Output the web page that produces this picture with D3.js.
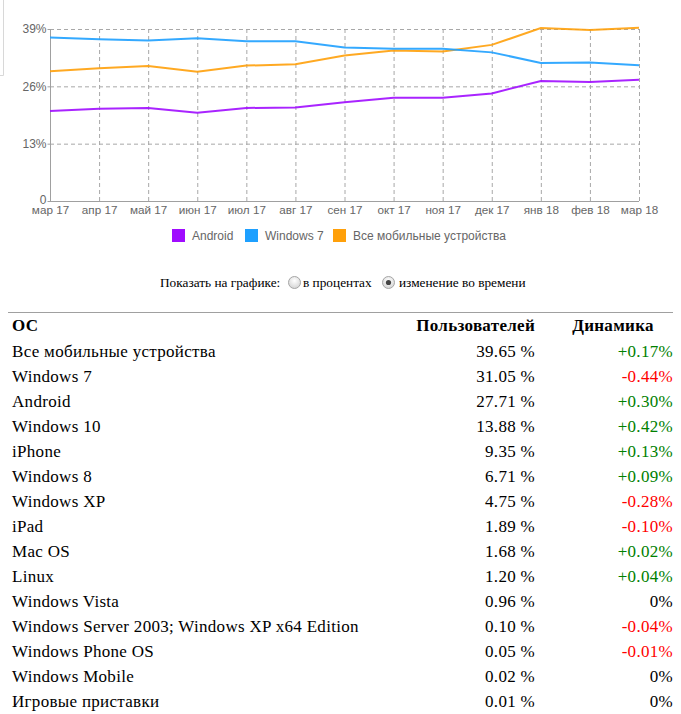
<!DOCTYPE html>
<html><head><meta charset="utf-8">
<script src="https://cdn.jsdelivr.net/npm/d3@7"></script>
<style>body{margin:0;background:#fff}svg{display:block}</style>
</head><body>
<script>
const months = ["мар 17","апр 17","май 17","июн 17","июл 17","авг 17","сен 17","окт 17","ноя 17","дек 17","янв 18","фев 18","мар 18"];
const android = [20.4,20.9,21.1,20.0,21.1,21.2,22.4,23.4,23.4,24.4,27.2,27.0,27.5];
const windows7 = [37.1,36.7,36.4,36.9,36.2,36.2,34.8,34.5,34.5,33.7,31.3,31.4,30.8];
const mobile = [29.4,30.1,30.6,29.3,30.7,31.0,33.0,34.1,33.9,35.4,39.2,38.8,39.3];
const yTicks = [0,13,26,39];
const seriesNames = ["Android","Windows 7","Все мобильные устройства"];
const seriesColors = ["#a00cff","#1ea0ff","#ffa00a"];

const osNames = ["Все мобильные устройства","Windows 7","Android","Windows 10","iPhone","Windows 8","Windows XP","iPad","Mac OS","Linux","Windows Vista","Windows Server 2003; Windows XP x64 Edition","Windows Phone OS","Windows Mobile","Игровые приставки"];
const osShare = ["39.65 %","31.05 %","27.71 %","13.88 %","9.35 %","6.71 %","4.75 %","1.89 %","1.68 %","1.20 %","0.96 %","0.10 %","0.05 %","0.02 %","0.01 %"];
const osChange = ["+0.17%","-0.44%","+0.30%","+0.42%","+0.13%","+0.09%","-0.28%","-0.10%","+0.02%","+0.04%","0%","-0.04%","-0.01%","0%","0%"];

const W = 681, H = 714;
const sans = "Liberation Sans, Arial, Helvetica, sans-serif";
const serif = "Liberation Serif, Times New Roman, serif";
const svg = d3.select("body").append("svg").attr("width", W).attr("height", H);

// small frame artifact top-left
svg.append("path").attr("d","M3.5,0V75.5H0").attr("fill","none").attr("stroke","#d8d8d8");

const x = d3.scalePoint().domain(months).range([50, 639]);
const y = d3.scaleLinear().domain([0, 39]).range([201, 29]);

const g = svg.append("g");
g.selectAll("line.v").data(months.slice(1)).join("line")
  .attr("x1", d => x(d)+0.5).attr("x2", d => x(d)+0.5)
  .attr("y1", y(39)).attr("y2", y(0))
  .attr("stroke", "#a8a8a8").attr("stroke-dasharray", "4,3");
g.selectAll("line.h").data(yTicks.filter(d=>d>0)).join("line")
  .attr("x1", x(months[0])).attr("x2", x(months[12]))
  .attr("y1", d => y(d)+0.5).attr("y2", d => y(d)+0.5)
  .attr("stroke", "#a8a8a8").attr("stroke-dasharray", "4,3");
g.append("line").attr("x1", x(months[0])).attr("x2", x(months[12])).attr("y1", y(0)+0.5).attr("y2", y(0)+0.5).attr("stroke","#a0a0a0");
g.append("line").attr("x1", x(months[0])+0.5).attr("x2", x(months[0])+0.5).attr("y1", y(39)).attr("y2", y(0)).attr("stroke","#a0a0a0");

const yAxis = d3.axisLeft(y).tickValues(yTicks).tickSize(3).tickPadding(1).tickFormat(d => d === 0 ? "0" : d + "%");
const ya = svg.append("g").attr("transform", `translate(${x(months[0])+0.5},0)`).call(yAxis);
ya.select(".domain").remove();
ya.selectAll("line").attr("stroke","#a0a0a0");
ya.selectAll("text").attr("fill","#666").attr("font-family", sans).attr("font-size","12px");
ya.selectAll("text").filter(d => d === 0).attr("dy","0.22em");

const xAxis = d3.axisBottom(x).tickSize(0).tickPadding(5);
const xa = svg.append("g").attr("transform", `translate(0,${y(0)})`).call(xAxis);
xa.select(".domain").remove();
xa.selectAll("text").attr("fill","#666").attr("font-family", sans).attr("font-size","11.7px");

const seriesData = [android, windows7, mobile];
const line = d3.line().x((d,i) => x(months[i])).y(d => y(d));
[2,1,0].forEach(k => {
  svg.append("path").datum(seriesData[k]).attr("d", line)
    .attr("fill","none").attr("stroke", seriesColors[k]).attr("stroke-width", 2).attr("stroke-opacity",0.9);
});

// legend
const legX = [172, 245, 333];
seriesNames.forEach((n,i) => {
  svg.append("rect").attr("x", legX[i]).attr("y", 229).attr("width", 13).attr("height", 13).attr("fill", seriesColors[i]);
  svg.append("text").attr("x", legX[i]+20).attr("y", 240).text(n)
    .attr("fill","#666").attr("font-family", sans).attr("font-size","12px");
});

// controls
svg.append("text").attr("x", 160).attr("y", 287).text("Показать на графике:").attr("font-family", serif).attr("font-size","13.3px").attr("fill","#000");
const radGrad = svg.append("defs").append("radialGradient").attr("id","rg").attr("cx","50%").attr("cy","35%").attr("r","65%");
radGrad.append("stop").attr("offset","0%").attr("stop-color","#ffffff");
radGrad.append("stop").attr("offset","100%").attr("stop-color","#d4d4d4");
[[294.5,false],[388.5,true]].forEach(([cx,chk]) => {
  svg.append("circle").attr("cx", cx).attr("cy", 282.5).attr("r", 6).attr("fill","url(#rg)").attr("stroke","#a6a6a6");
  if (chk) svg.append("circle").attr("cx", cx).attr("cy", 282.5).attr("r", 2.6).attr("fill","#444");
});
svg.append("text").attr("x", 303).attr("y", 287).text("в процентах").attr("font-family", serif).attr("font-size","13.3px");
svg.append("text").attr("x", 399).attr("y", 287).text("изменение во времени").attr("font-family", serif).attr("font-size","13.3px");

// table
svg.append("line").attr("x1", 8).attr("x2", 673).attr("y1", 312.5).attr("y2", 312.5).attr("stroke","#a0a0a0");
const hdr = svg.append("g").attr("font-family", serif).attr("font-size","17px").attr("letter-spacing","0.3px").attr("font-weight","bold");
hdr.append("text").attr("x", 12).attr("y", 331).text("ОС");
hdr.append("text").attr("x", 535).attr("y", 331).attr("text-anchor","end").text("Пользователей");
hdr.append("text").attr("x", 613).attr("y", 331).attr("text-anchor","middle").text("Динамика");

const rowY = d3.scaleLinear().domain([0,1]).range([357, 382]);
const rows = svg.append("g").attr("font-family", serif).attr("font-size","17px").attr("letter-spacing","0.3px");
osNames.forEach((n,i) => {
  const yy = rowY(i);
  rows.append("text").attr("x", 12).attr("y", yy).text(n);
  rows.append("text").attr("x", 535).attr("y", yy).attr("text-anchor","end").text(osShare[i]);
  const c = osChange[i];
  rows.append("text").attr("x", 673).attr("y", yy).attr("text-anchor","end").text(c)
    .attr("fill", c.startsWith("+") ? "#008000" : c.startsWith("-") ? "#ff0000" : "#000");
});
</script>
</body></html>
